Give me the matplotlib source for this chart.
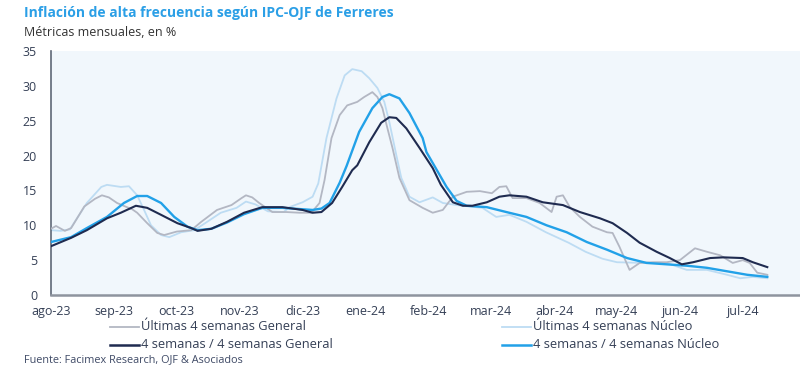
import matplotlib
matplotlib.use("Agg")
import matplotlib.pyplot as plt
from matplotlib.lines import Line2D

plt.rcParams['font.family'] = ['Open Sans', 'DejaVu Sans']

# ---- data (x = months since 1 Aug 2023) ----
month_labels = ["ago-23", "sep-23", "oct-23", "nov-23", "dic-23", "ene-24",
                "feb-24", "mar-24", "abr-24", "may-24", "jun-24", "jul-24"]

gen_last_x = [0.00, 0.08, 0.22, 0.32, 0.53, 0.70, 0.81, 0.92, 1.05, 1.18, 1.29, 1.37,
              1.53, 1.69, 1.80, 2.00, 2.23, 2.39, 2.64, 2.87, 3.03, 3.10, 3.20, 3.31,
              3.52, 3.74, 3.95, 4.14, 4.27, 4.35, 4.46, 4.59, 4.71, 4.87, 4.98, 5.11,
              5.19, 5.27, 5.35, 5.43, 5.54, 5.70, 5.91, 6.07, 6.23, 6.39, 6.61, 6.82,
              7.01, 7.13, 7.24, 7.34, 7.56, 7.77, 7.96, 8.04, 8.14, 8.25, 8.41, 8.61,
              8.84, 8.93, 9.04, 9.20, 9.36, 9.57, 9.79, 10.00, 10.24, 10.43, 10.64,
              10.84, 11.00, 11.11, 11.23, 11.39]
gen_last_y = [9.5, 9.9, 9.2, 9.6, 12.7, 13.8, 14.3, 14.0, 13.2, 12.7, 12.3, 11.8,
              10.3, 8.9, 8.6, 9.1, 9.3, 10.5, 12.2, 12.9, 13.9, 14.3, 14.0, 13.2,
              11.9, 11.9, 11.8, 11.8, 13.2, 16.5, 22.5, 25.8, 27.2, 27.7, 28.4, 29.1,
              28.4, 26.8, 23.9, 21.1, 16.8, 13.6, 12.5, 11.8, 12.2, 14.1, 14.8, 14.9,
              14.6, 15.5, 15.6, 13.9, 13.9, 13.2, 11.9, 14.1, 14.3, 12.6, 11.2, 9.8,
              9.0, 8.9, 6.9, 3.6, 4.6, 4.7, 4.7, 5.0, 6.7, 6.2, 5.7,
              4.6, 5.0, 4.6, 3.2, 2.9]

core_last_x = [0.00, 0.15, 0.30, 0.57, 0.80, 0.89, 1.11, 1.24, 1.37, 1.48, 1.59, 1.75,
               1.88, 2.07, 2.28, 2.45, 2.70, 2.95, 3.10, 3.25, 3.45, 3.70, 3.79, 4.00,
               4.16, 4.25, 4.38, 4.54, 4.67, 4.79, 4.94, 5.06, 5.19, 5.30, 5.38, 5.49,
               5.57, 5.70, 5.86, 6.07, 6.23, 6.45, 6.86, 7.08, 7.29, 7.56, 7.87, 8.23,
               8.50, 8.77, 9.00, 9.41, 9.79, 10.11, 10.43, 10.75, 10.96, 11.16, 11.39]
core_last_y = [9.3, 9.2, 9.4, 13.2, 15.5, 15.8, 15.5, 15.6, 14.3, 12.2, 10.0, 8.6,
               8.3, 9.0, 9.3, 10.3, 11.8, 12.5, 13.4, 13.0, 12.0, 11.9, 12.6, 13.3,
               14.1, 16.0, 22.5, 28.2, 31.5, 32.4, 32.1, 31.1, 29.7, 27.7, 24.8, 20.1,
               16.8, 14.1, 13.3, 14.0, 13.2, 12.9, 12.5, 11.2, 11.5, 10.5, 9.0, 7.5,
               6.2, 5.2, 4.7, 4.6, 4.6, 3.6, 3.6, 2.9, 2.4, 2.6, 2.4]

gen_44_x = [0.00, 0.32, 0.57, 0.89, 1.11, 1.35, 1.53, 1.75, 2.01, 2.23, 2.33, 2.55,
            2.80, 3.07, 3.36, 3.68, 4.00, 4.16, 4.30, 4.47, 4.63, 4.79, 4.87, 5.06,
            5.25, 5.38, 5.49, 5.65, 5.86, 6.07, 6.20, 6.39, 6.55, 6.70, 6.93, 7.13,
            7.29, 7.56, 7.82, 8.14, 8.41, 8.73, 8.93, 9.16, 9.36, 9.63, 9.84, 10.03,
            10.21, 10.48, 10.69, 11.00, 11.16, 11.39]
gen_44_y = [7.0, 8.2, 9.3, 11.0, 11.8, 12.8, 12.5, 11.5, 10.3, 9.6, 9.2, 9.5,
            10.5, 11.8, 12.6, 12.6, 12.2, 11.8, 11.9, 13.2, 15.5, 17.9, 18.6, 21.9,
            24.7, 25.5, 25.4, 23.9, 21.1, 18.2, 15.8, 13.3, 12.8, 12.8, 13.3, 14.1,
            14.3, 14.1, 13.3, 12.9, 11.9, 11.0, 10.3, 8.9, 7.5, 6.2, 5.3, 4.4,
            4.7, 5.3, 5.4, 5.3, 4.7, 4.0]

core_44_x = [0.00, 0.32, 0.57, 0.89, 1.16, 1.37, 1.53, 1.75, 1.96, 2.17, 2.33, 2.55,
             2.80, 3.07, 3.36, 3.68, 4.00, 4.16, 4.30, 4.43, 4.59, 4.70, 4.90, 5.11,
             5.27, 5.38, 5.54, 5.70, 5.91, 5.97, 6.13, 6.29, 6.45, 6.61, 6.93, 7.24,
             7.56, 7.88, 8.20, 8.52, 8.84, 9.16, 9.47, 9.79, 10.11, 10.43, 10.75,
             11.07, 11.39]
core_44_y = [7.6, 8.3, 9.6, 11.2, 13.2, 14.2, 14.2, 13.2, 11.2, 9.8, 9.3, 9.5,
             10.4, 11.6, 12.5, 12.5, 12.3, 12.2, 12.4, 13.2, 16.1, 18.5, 23.4, 26.8,
             28.4, 28.8, 28.2, 26.1, 22.5, 20.5, 18.0, 15.5, 13.5, 12.8, 12.6, 11.9,
             11.2, 10.0, 9.0, 7.6, 6.5, 5.3, 4.6, 4.4, 4.2, 3.9, 3.4,
             2.9, 2.6]

series_names = ["Últimas 4 semanas General", "4 semanas / 4 semanas General",
                "Últimas 4 semanas Núcleo", "4 semanas / 4 semanas Núcleo"]

# ---- styles ----
c_gray = "#b3b7c3"
c_light = "#bddcf3"
c_dark = "#1f2b50"
c_blue = "#22a1e8"
txt = "#343f55"

fig = plt.figure(figsize=(8.0, 3.78), dpi=100)
ax = fig.add_axes([51/800, 1-295/378, (800-51)/800, (295-51)/378])
ax.set_facecolor("#f1f7fc")

ax.plot(core_last_x, core_last_y, color=c_light, lw=1.3, zorder=2)
ax.plot(gen_last_x, gen_last_y, color=c_gray, lw=1.3, zorder=3)
ax.plot(core_44_x, core_44_y, color=c_blue, lw=1.7, zorder=4)
ax.plot(gen_44_x, gen_44_y, color=c_dark, lw=1.5, zorder=5)

ax.set_xlim(0, 11.91)
ax.set_ylim(0, 35)
ax.set_yticks(range(0, 36, 5))
ax.set_xticks(range(len(month_labels)))
ax.set_xticklabels(month_labels)
ax.tick_params(axis='both', length=0, colors=txt, labelsize=9)
ax.tick_params(axis='y', pad=10)
ax.tick_params(axis='x', pad=7)
for s in ["top", "right"]:
    ax.spines[s].set_visible(False)
ax.spines["left"].set_color("#5f6877")
ax.spines["left"].set_linewidth(1.2)
ax.spines["bottom"].set_color("#8e949e")
ax.spines["bottom"].set_linewidth(1.8)

# ---- titles ----
fig.text(24/800, 1-13/378, "Inflación de alta frecuencia según IPC-OJF de Ferreres",
         color="#2b9fe6", fontsize=10, fontweight="bold", va="center", ha="left")
fig.text(24/800, 1-33/378, "Métricas mensuales, en %", color="#333333",
         fontsize=9, va="center", ha="left")
fig.text(24/800, 1-360/378, "Fuente: Facimex Research, OJF & Asociados",
         color="#3f4a66", fontsize=7.8, va="center", ha="left")

# ---- legend (manual, two columns) ----
leg = [(110, 327, c_gray, 1.3, series_names[0]),
       (110, 345, c_dark, 1.8, series_names[1]),
       (502, 327, c_light, 1.3, series_names[2]),
       (502, 345, c_blue, 1.8, series_names[3])]
for x0, y0, col, lw, name in leg:
    fig.add_artist(Line2D([x0/800, (x0+29)/800], [1-y0/378, 1-y0/378],
                          color=col, lw=lw, transform=fig.transFigure))
    fig.text((x0+31)/800, 1-y0/378, name, color=txt, fontsize=9.3,
             va="center", ha="left")

fig.savefig("out.png", dpi=100)
